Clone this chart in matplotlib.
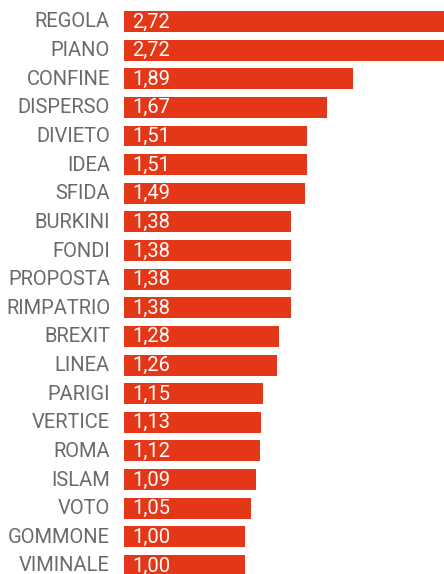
import matplotlib
matplotlib.use("Agg")
import matplotlib.pyplot as plt

categories = ["REGOLA", "PIANO", "CONFINE", "DISPERSO", "DIVIETO", "IDEA", "SFIDA",
              "BURKINI", "FONDI", "PROPOSTA", "RIMPATRIO", "BREXIT", "LINEA", "PARIGI",
              "VERTICE", "ROMA", "ISLAM", "VOTO", "GOMMONE", "VIMINALE"]
values = [2.72, 2.72, 1.89, 1.67, 1.51, 1.51, 1.49, 1.38, 1.38, 1.38, 1.38, 1.28,
          1.26, 1.15, 1.13, 1.12, 1.09, 1.05, 1.00, 1.00]
labels = [f"{v:.2f}".replace(".", ",") for v in values]

plt.rcParams['font.family'] = ['Roboto', 'DejaVu Sans']

W, H = 444, 574
fig = plt.figure(figsize=(W/100, H/100), dpi=100)
x0 = 124
ax = fig.add_axes([x0/W, 0, (W-x0)/W, 1])
ypos = list(range(len(categories)))
ax.barh(ypos, values, height=0.733, color="#E43718")
ax.set_xlim(0, (W - x0) / 121.3)
ax.set_ylim(19.30, -0.751)
ax.axis("off")
for y, c, l in zip(ypos, categories, labels):
    ax.annotate(c, xy=(0, y), xytext=(-14, -0.5), textcoords="offset pixels",
                ha="right", va="center", fontsize=14.5, color="#6a6a6a")
    ax.annotate(l, xy=(0, y), xytext=(8, -0.5), textcoords="offset pixels",
                ha="left", va="center", fontsize=14.5, color="white")
fig.savefig("out.png", dpi=100)
